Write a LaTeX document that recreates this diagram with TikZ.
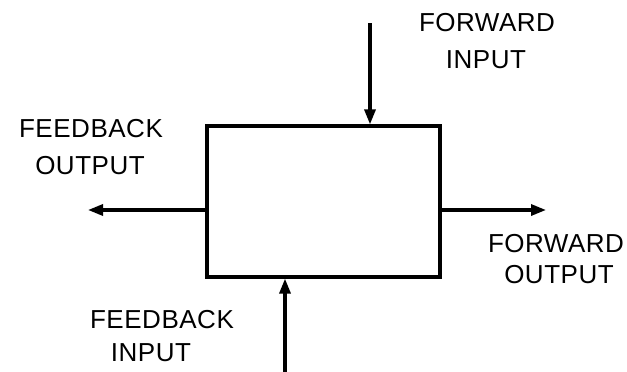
\documentclass[tikz,border=0pt]{standalone}
\usepackage{fontspec}
\setmainfont{Liberation Sans}[LetterSpace=2]
\usetikzlibrary{arrows.meta}
\begin{document}
\begin{tikzpicture}[x=1pt,y=-1pt,
  line width=3.2pt,
  conn/.style={-{Triangle[length=15pt,width=11pt]}},
  lbl/.style={font=\fontsize{26}{30}\selectfont, inner sep=0pt, anchor=center}]
\useasboundingbox (0,0) rectangle (627,372);
\node[draw, line width=3.2pt, minimum width=233pt, minimum height=151pt, inner sep=0pt] (box) at (323.5,201.5) {};
\coordinate (fin) at (370,23);
\coordinate (fbin) at (285,372);
\coordinate (fbout) at (88,210);
\coordinate (fout) at (546,210);
\draw[conn] (fin) -- (fin |- box.north);
\draw[conn] (fbin) -- (fbin |- box.south);
\draw[conn] (fbout -| box.west) -- (fbout);
\draw[conn] (fout -| box.east) -- (fout);
\node[lbl] (t1) at (487,23) {FORWARD};
\node[lbl] (t2) at (486,60) {INPUT};
\node[lbl] (t3) at (91,129) {FEEDBACK};
\node[lbl] (t4) at (90,166) {OUTPUT};
\node[lbl] (t5) at (556,244) {FORWARD};
\node[lbl] (t6) at (559,275) {OUTPUT};
\node[lbl] (t7) at (162,320) {FEEDBACK};
\node[lbl] (t8) at (151,353) {INPUT};
\end{tikzpicture}
\end{document}
